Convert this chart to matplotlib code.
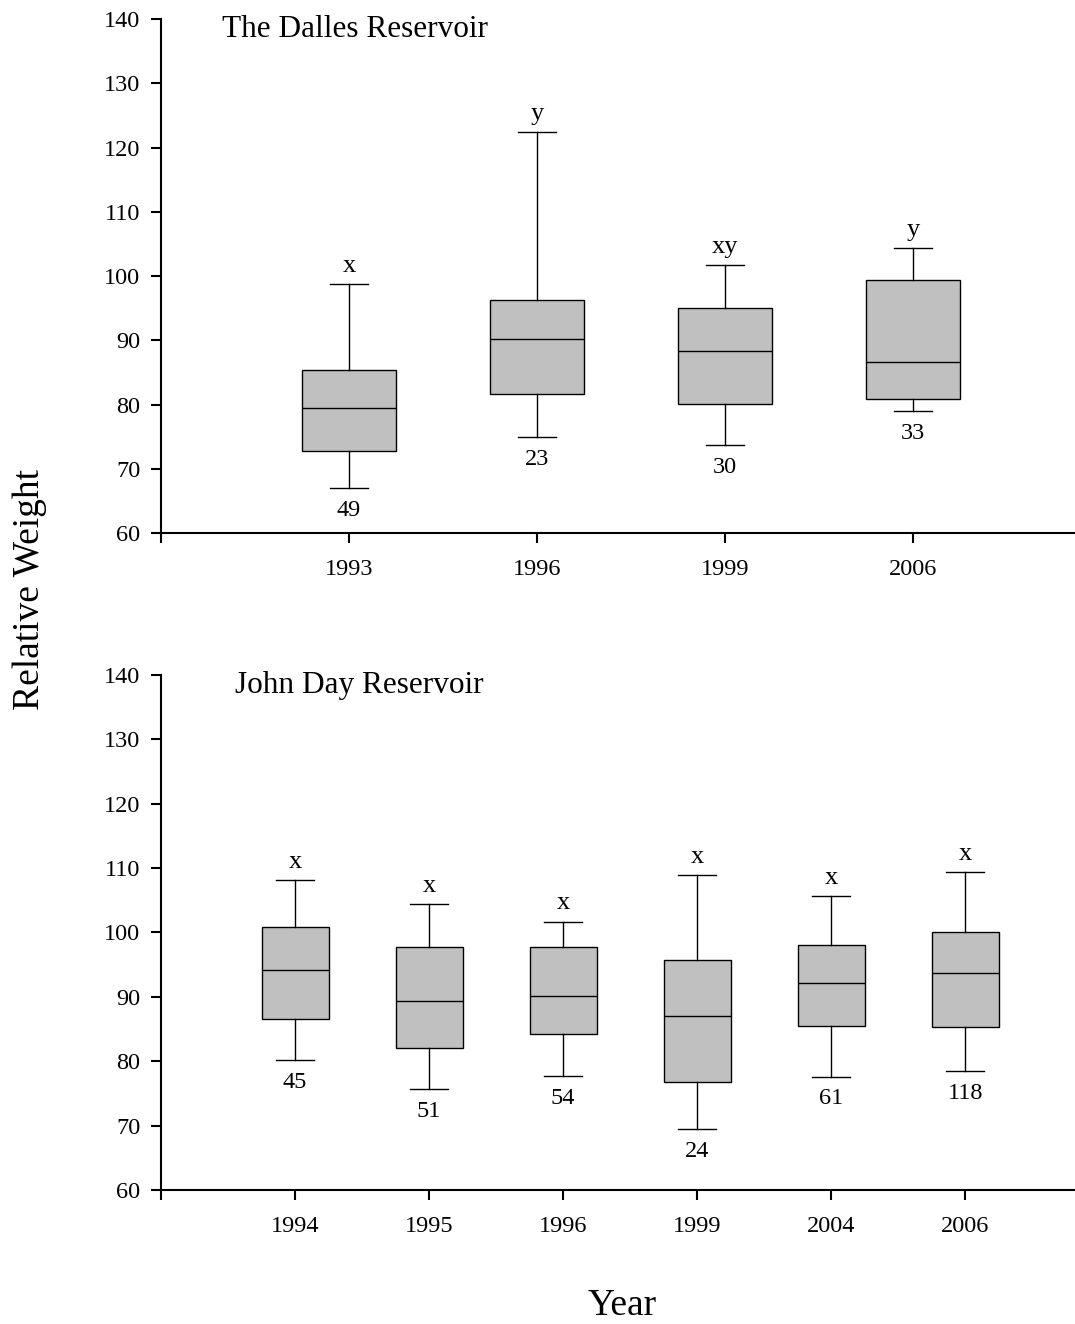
import matplotlib
matplotlib.use('Agg')
import matplotlib.pyplot as plt

plt.rcParams['font.family'] = ['Liberation Serif', 'DejaVu Serif']

# The Dalles Reservoir
dalles_years = ['1993', '1996', '1999', '2006']
dalles_low = [67.0, 74.9, 73.7, 79.0]
dalles_q1 = [72.8, 81.6, 80.1, 80.9]
dalles_med = [79.5, 90.2, 88.3, 86.6]
dalles_q3 = [85.4, 96.3, 95.0, 99.4]
dalles_high = [98.8, 122.4, 101.7, 104.4]
dalles_n = ['49', '23', '30', '33']
dalles_grp = ['x', 'y', 'xy', 'y']

# John Day Reservoir
jday_years = ['1994', '1995', '1996', '1999', '2004', '2006']
jday_low = [80.2, 75.7, 77.7, 69.4, 77.6, 78.5]
jday_q1 = [86.5, 82.1, 84.2, 76.8, 85.4, 85.3]
jday_med = [94.1, 89.3, 90.1, 87.0, 92.2, 93.7]
jday_q3 = [100.9, 97.8, 97.8, 95.7, 98.1, 100.1]
jday_high = [108.1, 104.4, 101.7, 108.9, 105.6, 109.4]
jday_n = ['45', '51', '54', '24', '61', '118']
jday_grp = ['x', 'x', 'x', 'x', 'x', 'x']


def draw_panel(ax, title, years, low, q1, med, q3, high, n, grp, xmax, title_x, capw):
    stats = []
    for i in range(len(years)):
        stats.append({'whislo': low[i], 'q1': q1[i], 'med': med[i],
                      'q3': q3[i], 'whishi': high[i], 'fliers': []})
    pos = list(range(1, len(years) + 1))
    ax.bxp(stats, positions=pos, widths=0.5, patch_artist=True, showfliers=False,
           capwidths=capw,
           boxprops=dict(facecolor='#c0c0c0', edgecolor='black', linewidth=1),
           medianprops=dict(color='black', linewidth=1),
           whiskerprops=dict(color='black', linewidth=1),
           capprops=dict(color='black', linewidth=1))
    for i in range(len(years)):
        ax.annotate(grp[i], (pos[i], high[i]), xytext=(0, 13), textcoords='offset points',
                    ha='center', va='center', fontsize=19)
        ax.annotate(n[i], (pos[i], low[i]), xytext=(0, -16), textcoords='offset points',
                    ha='center', va='center', fontsize=17.5)
    ax.set_xlim(0, xmax)
    ax.set_ylim(60, 140)
    ax.set_yticks(range(60, 141, 10))
    ax.set_xticks([0] + pos)
    ax.set_xticklabels([''] + years)
    ax.spines['top'].set_visible(False)
    ax.spines['right'].set_visible(False)
    ax.spines['left'].set_linewidth(1.5)
    ax.spines['bottom'].set_linewidth(1.5)
    ax.tick_params(axis='both', direction='out', length=7, width=1.5, labelsize=17.5)
    ax.tick_params(axis='x', pad=12)
    ax.tick_params(axis='y', pad=8)
    ax.text(title_x, 0.98, title, transform=ax.transAxes, ha='left', va='center',
            fontsize=22.5)


fig = plt.figure(figsize=(10.75, 13.24), dpi=100)
ax1 = fig.add_axes([0.1498, 0.5974, 0.8502, 0.3882])
ax2 = fig.add_axes([0.1498, 0.1012, 0.8502, 0.3890])

draw_panel(ax1, 'The Dalles Reservoir', dalles_years, dalles_low, dalles_q1, dalles_med,
           dalles_q3, dalles_high, dalles_n, dalles_grp, 4.86, 0.067, 0.2)
draw_panel(ax2, 'John Day Reservoir', jday_years, jday_low, jday_q1, jday_med,
           jday_q3, jday_high, jday_n, jday_grp, 6.82, 0.081, 0.28)

fig.text(30 / 1075, 1 - 590 / 1324, 'Relative Weight', rotation=90, ha='center',
         va='center', fontsize=27)
fig.text(622 / 1075, 1 - 1306 / 1324, 'Year', ha='center', va='center', fontsize=27)

fig.savefig('out.png', dpi=100)
plt.close()
